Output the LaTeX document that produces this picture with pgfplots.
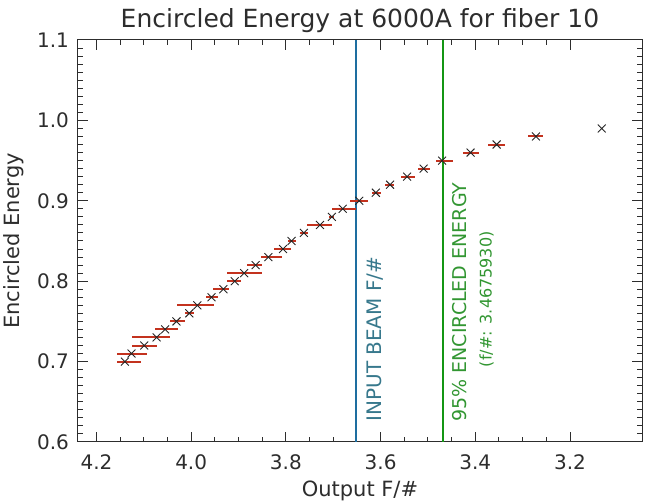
\documentclass[border=0pt]{standalone}
\usepackage{pgfplots}
\usepackage{pgfplotstable}
\pgfplotsset{compat=1.18}
\usepackage{fontspec}
\setmainfont{DejaVu Sans}
\definecolor{ebar}{RGB}{195,50,30}
\definecolor{beam}{RGB}{30,110,160}
\definecolor{beamtxt}{RGB}{55,120,140}
\definecolor{gline}{RGB}{20,150,20}
\definecolor{gtxt}{RGB}{50,150,50}
\definecolor{txt}{RGB}{45,45,45}

\pgfplotstableread{
x y ep em
4.140 0.70 0.016 0.033
4.126 0.71 0.030 0.033
4.099 0.72 0.025 0.026
4.073 0.73 0.051 0.029
4.055 0.74 0.022 0.028
4.031 0.75 0.014 0.019
4.004 0.76 0.009 0.010
3.987 0.77 0.043 0.036
3.957 0.78 0.012 0.014
3.932 0.79 0.022 0.012
3.908 0.80 0.017 0.014
3.888 0.81 0.037 0.037
3.864 0.82 0.018 0.013
3.837 0.83 0.016 0.028
3.806 0.84 0.019 0.016
3.788 0.85 0.008 0.009
3.762 0.86 0.008 0.009
3.728 0.87 0.028 0.026
3.703 0.88 0.005 0.005
3.680 0.89 0.023 0.029
3.645 0.90 0.020 0.019
3.610 0.91 0.009 0.010
3.580 0.92 0.011 0.008
3.544 0.93 0.012 0.016
3.509 0.94 0.011 0.013
3.470 0.95 0.013 0.023
3.410 0.96 0.017 0.018
3.355 0.97 0.018 0.018
3.272 0.98 0.016 0.015
3.133 0.99 0.000 0.000
}\eedata

\begin{document}
\begin{tikzpicture}
\begin{axis}[
  width=282pt, height=201pt, scale only axis,
  x dir=reverse,
  xmin=3.048, xmax=4.239, ymin=0.6, ymax=1.1,
  xtick={3.2,3.4,3.6,3.8,4.0,4.2},
  ytick={0.6,0.7,0.8,0.9,1.0,1.1},
  minor x tick num=3, minor y tick num=9,
  tick align=inside,
  major tick length=5pt, minor tick length=2.5pt,
  axis line style={txt, line width=0.5pt},
  tick style={txt, line width=0.5pt},
  /pgf/number format/assume math mode=true,
  xticklabel style={/pgf/number format/fixed, /pgf/number format/fixed zerofill, /pgf/number format/precision=1, font=\fontsize{10}{12}\selectfont, text=txt, yshift=-3pt},
  yticklabel style={/pgf/number format/fixed, /pgf/number format/fixed zerofill, /pgf/number format/precision=1, font=\fontsize{10}{12}\selectfont, text=txt, xshift=-1pt},
  title={Encircled Energy at 6000A for fiber 10},
  every axis title/.style={at={(0.5,1)}, anchor=base, yshift=6pt, font=\fontsize{12.5}{14}\selectfont, text=txt},
  xlabel={Output F/\#},
  every axis x label/.style={at={(0.5,0)}, anchor=base, yshift=-27.5pt, font=\fontsize{10.5}{12}\selectfont, text=txt},
  ylabel={Encircled Energy},
  every axis y label/.style={at={(0,0.5)}, xshift=-32pt, rotate=90, anchor=center, font=\fontsize{10.5}{12}\selectfont, text=txt},
  clip=false,
]
\coordinate (BL) at (rel axis cs:0,0);
\coordinate (TR) at (rel axis cs:1,1);
\addplot[draw=beam, line width=1pt] coordinates {(3.653,0.6) (3.653,1.1)};
\addplot[draw=gline, line width=0.8pt] coordinates {(3.4676,0.6) (3.4676,1.1)};
\addplot[only marks, mark=x, mark size=2.8pt,
  mark options={draw=black!85, line width=0.45pt},
  error bars/.cd, x dir=both, x explicit, error mark=none,
  error bar style={draw=ebar, line width=1pt}]
  table[x=x, y=y, x error plus=ep, x error minus=em]{\eedata};
\node[rotate=90, anchor=west, inner sep=0pt, text=beamtxt, font=\fontsize{10}{12}\selectfont] at (axis cs:3.612,0.625) {INPUT BEAM F/\#};
\node[rotate=90, anchor=west, inner sep=0pt, text=gtxt, font=\fontsize{9.5}{11}\selectfont] at (axis cs:3.4325,0.625) {95\% ENCIRCLED ENERGY};
\node[rotate=90, anchor=center, inner sep=0pt, text=gtxt, font=\fontsize{8}{10}\selectfont] at (axis cs:3.376,0.7775) {(f/\#: 3.4675930)};
\end{axis}
\pgfresetboundingbox
\path ([shift={(-39pt,-31pt)}]BL) rectangle ([shift={(2pt,20pt)}]TR);
\end{tikzpicture}
\end{document}
